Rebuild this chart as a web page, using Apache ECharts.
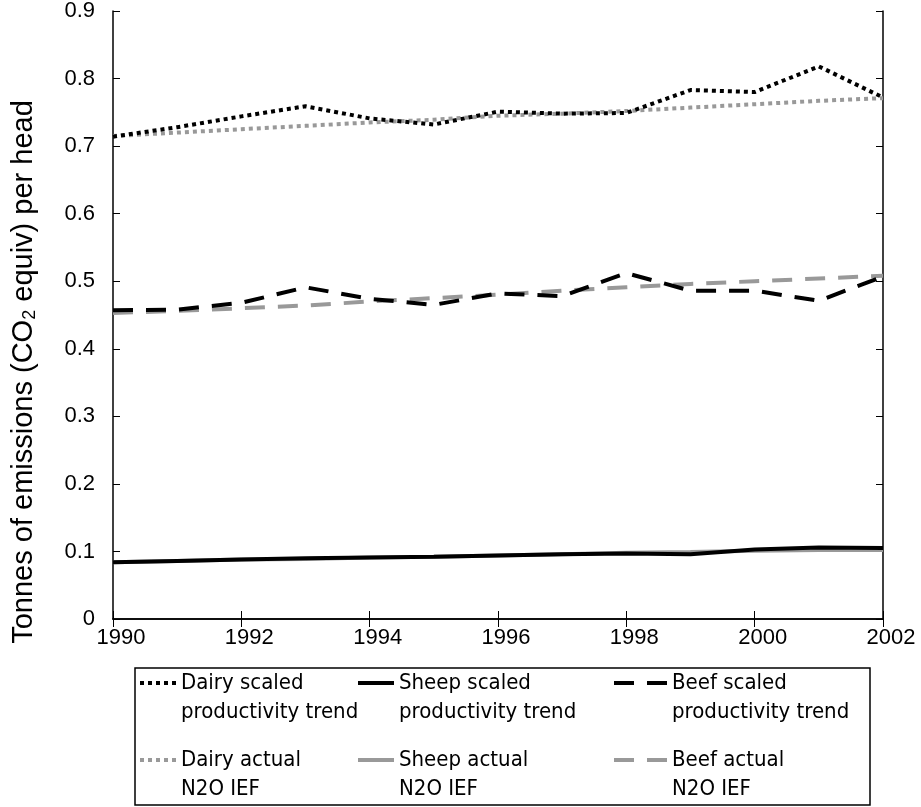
<!DOCTYPE html>
<html>
<head>
<meta charset="utf-8">
<script src="https://cdn.jsdelivr.net/npm/echarts@6/dist/echarts.min.js"></script>
<style>
html, body { margin: 0; padding: 0; background: #fff; }
#main { width: 921px; height: 807px; }
</style>
</head>
<body>
<div id="main"></div>
<script>
var years = [1990, 1991, 1992, 1993, 1994, 1995, 1996, 1997, 1998, 1999, 2000, 2001, 2002];
var dairyScaled = [0.714, 0.728, 0.744, 0.759, 0.741, 0.732, 0.751, 0.748, 0.749, 0.783, 0.780, 0.818, 0.772];
var dairyActual = [0.715, 0.720, 0.725, 0.730, 0.735, 0.739, 0.745, 0.748, 0.752, 0.757, 0.762, 0.767, 0.771];
var sheepScaled = [0.084, 0.086, 0.088, 0.090, 0.091, 0.092, 0.094, 0.096, 0.097, 0.096, 0.103, 0.106, 0.105];
var sheepActual = [0.084, 0.086, 0.088, 0.089, 0.091, 0.092, 0.094, 0.096, 0.098, 0.099, 0.101, 0.102, 0.102];
var beefScaled = [0.457, 0.458, 0.468, 0.491, 0.474, 0.465, 0.482, 0.478, 0.512, 0.486, 0.486, 0.471, 0.507];
var beefActual = [0.453, 0.456, 0.460, 0.464, 0.470, 0.475, 0.480, 0.486, 0.491, 0.496, 0.500, 0.504, 0.508];

var names = {
	dairyS: 'Dairy scaled\nproductivity trend',
	sheepS: 'Sheep scaled\nproductivity trend',
	beefS: 'Beef scaled\nproductivity trend',
	dairyA: 'Dairy actual\nN2O IEF',
	sheepA: 'Sheep actual\nN2O IEF',
	beefA: 'Beef actual\nN2O IEF'
};

var BLACK = '#000';
var GREY = '#999';
var DOT = [4, 4];
var DASH = [20, 13];

function pairs(vals) {
	var out = [];
	for (var i = 0; i < years.length; i++) out.push([years[i], vals[i]]);
	return out;
}

function lineSeries(name, vals, color, type) {
	return {
		name: name,
		type: 'line',
		data: pairs(vals),
		symbol: 'none',
		silent: true,
		animation: false,
		lineStyle: { color: color, width: 4, type: type, cap: 'butt' },
		itemStyle: { color: color }
	};
}

// one small legend per entry so the 3x2 grid lines up like the original
function legendAt(name, left, cy, w) {
	return {
		data: [name],
		left: left,
		top: cy - 43.5,
		padding: 0,
		itemWidth: w,
		itemHeight: 8,
		itemGap: 0,
		selectedMode: false,
		itemStyle: { opacity: 0 },
		lineStyle: { width: 4 },
		formatter: function (n) { return '\n' + n; },
		textStyle: {
			fontFamily: 'DejaVu Sans Condensed',
			fontSize: 22,
			lineHeight: 29,
			color: '#000'
		}
	};
}

var chart = echarts.init(document.getElementById('main'));

var option = {
	backgroundColor: '#fff',
	animation: false,
	grid: { left: 113, right: 38, top: 11, bottom: 188 },
	xAxis: [{
		type: 'value',
		min: 1990,
		max: 2002,
		interval: 2,
		axisLine: { lineStyle: { color: BLACK, width: 1.5 } },
		axisTick: { inside: true, length: 8, lineStyle: { color: BLACK, width: 1 } },
		axisLabel: {
			color: BLACK,
			fontFamily: 'Liberation Sans',
			fontSize: 22,
			margin: 8,
			padding: [0, 0, 0, 16],
			formatter: function (v) { return String(v); }
		},
		splitLine: { show: false }
	}, {
		type: 'value',
		position: 'top',
		min: 1990,
		max: 2002,
		interval: 2,
		axisLine: { lineStyle: { color: BLACK, width: 1.5 } },
		axisTick: { inside: true, length: 8, lineStyle: { color: BLACK, width: 1 } },
		axisLabel: { show: false },
		splitLine: { show: false }
	}],
	yAxis: [{
		type: 'value',
		min: 0,
		max: 0.9,
		interval: 0.1,
		axisLine: { show: true, lineStyle: { color: BLACK, width: 1.5 } },
		axisTick: { show: true, inside: true, length: 7, lineStyle: { color: BLACK, width: 1 } },
		axisLabel: {
			color: BLACK,
			fontFamily: 'Liberation Sans',
			fontSize: 22,
			margin: 18,
			padding: [10, 0, 0, 0],
			formatter: function (v) { return v === 0 ? '0' : v.toFixed(1); }
		},
		splitLine: { show: false }
	}, {
		type: 'value',
		position: 'right',
		min: 0,
		max: 0.9,
		interval: 0.1,
		axisLine: { show: true, lineStyle: { color: BLACK, width: 1.5 } },
		axisTick: { show: true, inside: true, length: 7, lineStyle: { color: BLACK, width: 1 } },
		axisLabel: { show: false },
		splitLine: { show: false }
	}],
	legend: [
		legendAt(names.dairyS, 138, 683, 36),
		legendAt(names.sheepS, 356, 683, 36),
		legendAt(names.beefS, 612, 683, 53),
		legendAt(names.dairyA, 138, 760, 36),
		legendAt(names.sheepA, 356, 760, 36),
		legendAt(names.beefA, 612, 760, 53)
	],
	graphic: [{
		type: 'rect',
		shape: { x: 135, y: 668, width: 735, height: 137 },
		style: { fill: 'none', stroke: BLACK, lineWidth: 1.5 },
		silent: true
	}, {
		type: 'text',
		x: 24,
		y: 372,
		rotation: Math.PI / 2,
		silent: true,
		style: {
			text: '{t|Tonnes of emissions (CO}{s|2}{t| equiv) per head}',
			align: 'center',
			verticalAlign: 'middle',
			rich: {
				t: { fontFamily: 'Liberation Sans', fontSize: 29, fill: BLACK },
				s: { fontFamily: 'Liberation Sans', fontSize: 18, fill: BLACK, padding: [13, 0, 0, 0] }
			}
		}
	}],
	series: [
		lineSeries(names.dairyA, dairyActual, GREY, DOT),
		lineSeries(names.sheepA, sheepActual, GREY, 'solid'),
		lineSeries(names.beefA, beefActual, GREY, DASH),
		lineSeries(names.dairyS, dairyScaled, BLACK, DOT),
		lineSeries(names.sheepS, sheepScaled, BLACK, 'solid'),
		lineSeries(names.beefS, beefScaled, BLACK, DASH)
	]
};

chart.setOption(option);
</script>
</body>
</html>
